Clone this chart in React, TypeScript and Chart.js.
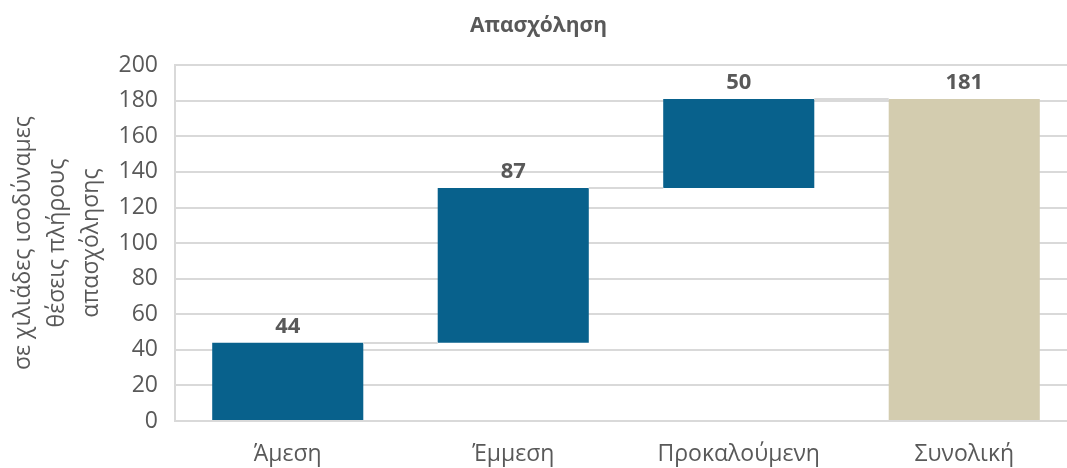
import React, { useEffect, useRef } from "react";
import { Chart, registerables } from "chart.js";

Chart.register(...registerables);

const categories = ["Άμεση", "Έμμεση", "Προκαλούμενη", "Συνολική"];
const starts = [0, 44, 131, 0];
const values = [44, 87, 50, 181];
const barColors = ["#08618c", "#08618c", "#08618c", "#d3ccaf"];
const yTicks = [0, 20, 40, 60, 80, 100, 120, 140, 160, 180, 200];
const titleText = "Απασχόληση";
const yTitleLines = ["σε χιλιάδες ισοδύναμες", "θέσεις πλήρους", "απασχόλησης"];

const FONT = "'Open Sans', 'DejaVu Sans', sans-serif";
const TEXT = "#595959";

export default function App() {
  const ref = useRef<HTMLCanvasElement>(null);
  useEffect(() => {
    document.body.style.margin = "0";
    const ctx = ref.current!.getContext("2d")!;
    const floating = starts.map((s, i) => [s, s + values[i]]);

    const extras = {
      id: "extras",
      afterDatasetsDraw(chart: any) {
        const c = chart.ctx;
        const meta = chart.getDatasetMeta(0);
        const y = chart.scales.y;
        c.save();
        c.strokeStyle = "#d9d9d9";
        c.lineWidth = 2;
        for (let i = 0; i < values.length - 1; i++) {
          const a = meta.data[i];
          const b = meta.data[i + 1];
          const py = Math.round(y.getPixelForValue(starts[i] + values[i]));
          c.beginPath();
          c.moveTo(a.x + a.width / 2, py);
          c.lineTo(b.x - b.width / 2, py);
          c.stroke();
        }
        c.fillStyle = TEXT;
        c.font = `bold 22px ${FONT}`;
        c.textAlign = "center";
        c.textBaseline = "middle";
        meta.data.forEach((el: any, i: number) => {
          const top = y.getPixelForValue(starts[i] + values[i]);
          c.fillText(String(values[i]), el.x, top - 16);
        });
        c.font = `23px ${FONT}`;
        const cy = (chart.chartArea.top + chart.chartArea.bottom) / 2;
        const xs = [23, 57, 91];
        yTitleLines.forEach((t, i) => {
          c.save();
          c.translate(xs[i], cy);
          c.rotate(-Math.PI / 2);
          c.fillText(t, 0, 0);
          c.restore();
        });
        c.restore();
      },
    };

    const chart = new Chart(ctx, {
      type: "bar",
      data: {
        labels: categories,
        datasets: [
          {
            data: floating as any,
            backgroundColor: barColors,
            barPercentage: 0.67,
            categoryPercentage: 1,
            borderSkipped: false,
          },
        ],
      },
      options: {
        animation: false,
        responsive: false,
        layout: { padding: { top: 0, right: 3, bottom: 0, left: 0 } },
        plugins: {
          legend: { display: false },
          tooltip: { enabled: false },
          title: {
            display: true,
            text: titleText,
            color: TEXT,
            font: { family: FONT, size: 21, weight: "bold" },
            padding: { top: 13, bottom: 27 },
          },
        },
        scales: {
          x: {
            grid: { display: false, drawTicks: false },
            border: { color: "#d9d9d9", width: 2 },
            ticks: { color: TEXT, font: { family: FONT, size: 23 }, padding: 20 },
            afterFit: (s: any) => {
              s.height = 47;
            },
          },
          y: {
            min: 0,
            max: 200,
            afterBuildTicks: (s: any) => {
              s.ticks = yTicks.map((v) => ({ value: v }));
            },
            grid: { color: "#d9d9d9", lineWidth: 2, drawTicks: false },
            border: { color: "#d9d9d9", width: 2 },
            ticks: { color: TEXT, font: { family: FONT, size: 23 }, padding: 17 },
            afterFit: (s: any) => {
              s.width = 175;
            },
          },
        },
      },
      plugins: [extras],
    });
    return () => chart.destroy();
  }, []);
  return (
    <div style={{ width: 1067, height: 468, overflow: "hidden" }}>
      <canvas ref={ref} width={1080} height={468} style={{ display: "block" }} />
    </div>
  );
}
